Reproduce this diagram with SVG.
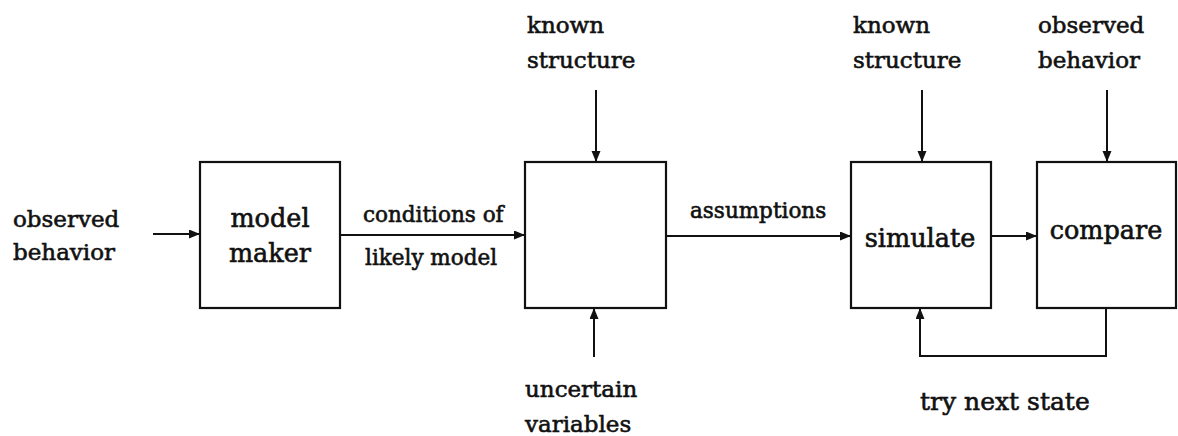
<svg xmlns="http://www.w3.org/2000/svg" width="1178" height="436" viewBox="0 0 1178 436">
<style>
.box{fill:none;stroke:#111;stroke-width:2.2}
.conn{fill:none;stroke:#111;stroke-width:2}
text{font-family:"DejaVu Serif","Liberation Serif",serif;fill:#111;stroke:#111;stroke-width:0.6}
.lab{font-size:23px}
.alab{font-size:21.5px}
.blab{font-size:25.5px}
.tlab{font-size:25px}
</style>
<defs>
<marker id="ah" markerUnits="userSpaceOnUse" markerWidth="12" markerHeight="10" refX="11" refY="4.5" orient="auto">
<path d="M0,0 L11,4.5 L0,9 z" fill="#111"/>
</marker>
</defs>
<rect width="1178" height="436" fill="#fff"/>
<g id="connectors">
<line class="conn" x1="153" y1="234" x2="200" y2="234" marker-end="url(#ah)"/>
<line class="conn" x1="340" y1="235" x2="525" y2="235" marker-end="url(#ah)"/>
<line class="conn" x1="596" y1="90" x2="596" y2="162" marker-end="url(#ah)"/>
<line class="conn" x1="594" y1="357" x2="594" y2="308" marker-end="url(#ah)"/>
<line class="conn" x1="666" y1="236" x2="851" y2="236" marker-end="url(#ah)"/>
<line class="conn" x1="922" y1="90" x2="922" y2="162" marker-end="url(#ah)"/>
<line class="conn" x1="991" y1="236" x2="1037" y2="236" marker-end="url(#ah)"/>
<line class="conn" x1="1107" y1="90" x2="1107" y2="162" marker-end="url(#ah)"/>
<polyline class="conn" points="1106,308 1106,356 920,356 920,308" marker-end="url(#ah)"/>
</g>
<g id="in-observed">
<text class="lab" x="13" y="227">observed</text>
<text class="lab" x="13" y="260">behavior</text>
</g>
<g id="model-maker">
<rect class="box" x="200" y="162" width="140" height="146"/>
<text class="blab" x="270" y="227" text-anchor="middle">model</text>
<text class="blab" x="270" y="262" text-anchor="middle">maker</text>
</g>
<g id="label-conditions">
<text class="alab" x="363" y="222">conditions of</text>
<text class="alab" x="365" y="265">likely model</text>
</g>
<g id="in-known-1">
<text class="lab" x="527" y="33">known</text>
<text class="lab" x="527" y="68">structure</text>
</g>
<g id="assumption-box">
<rect class="box" x="525" y="162" width="141" height="146"/>
</g>
<g id="in-uncertain">
<text class="lab" x="525" y="397">uncertain</text>
<text class="lab" x="525" y="432">variables</text>
</g>
<g id="label-assumptions">
<text class="alab" x="690" y="218">assumptions</text>
</g>
<g id="in-known-2">
<text class="lab" x="853" y="33">known</text>
<text class="lab" x="853" y="68">structure</text>
</g>
<g id="simulate">
<rect class="box" x="851" y="162" width="140" height="146"/>
<text class="blab" x="920" y="247" text-anchor="middle">simulate</text>
</g>
<g id="in-observed-2">
<text class="lab" x="1038" y="33">observed</text>
<text class="lab" x="1038" y="68">behavior</text>
</g>
<g id="compare">
<rect class="box" x="1037" y="162" width="139" height="146"/>
<text class="blab" x="1106" y="239" text-anchor="middle">compare</text>
</g>
<g id="label-try">
<text class="tlab" x="920" y="410">try next state</text>
</g>
</svg>
